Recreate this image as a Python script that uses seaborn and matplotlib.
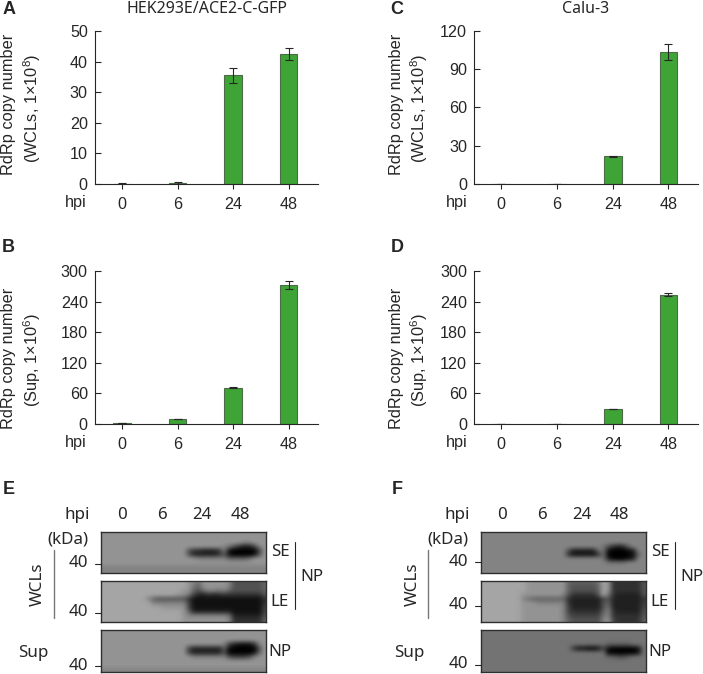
#!/usr/bin/env python3
"""RdRp copy number bar charts and NP western blots."""

import matplotlib

matplotlib.use("Agg")

import matplotlib.pyplot as plt
import numpy as np
import pandas as pd
import seaborn as sns

sns.set_theme(style="ticks")
plt.rcParams["font.family"] = ["Liberation Sans", "DejaVu Sans"]
plt.rcParams["mathtext.default"] = "regular"

W, H = 703, 674
GREEN = "#3ea435"
INK = "#262626"

hpi = ["0", "6", "24", "48"]

wcl_hek = [0.05, 0.2, 35.5, 42.5]
wcl_hek_err = [0.05, 0.2, 2.5, 2.0]
sup_hek = [0.8, 9, 71, 273]
sup_hek_err = [0.4, 0.4, 1.5, 8]
wcl_calu = [0.05, 0.05, 21.5, 103.5]
wcl_calu_err = [0.0, 0.0, 0.3, 6.5]
sup_calu = [0.1, 0.1, 29, 253]
sup_calu_err = [0.0, 0.0, 0.6, 3.0]

ticks_wcl_hek = [0, 10, 20, 30, 40, 50]
ticks_wcl_calu = [0, 30, 60, 90, 120]
ticks_sup = [0, 60, 120, 180, 240, 300]

# blot images, one hex digit per cell: 0 is black, f is near white
blot_e_se = [
    "99999 99999 99999 99999 99999 99999 999",
    "99999 99999 99999 99999 99999 99999 999",
    "99999 99999 99999 99999 99999 99988 999",
    "99999 99999 99999 99999 99998 75322 489",
    "99999 99999 99999 99533 22238 10000 049",
    "99999 99999 99999 99522 22235 10000 159",
    "99999 99999 99999 99998 88888 66667 999",
    "99999 99999 99999 99999 99999 99999 999",
    "88888 88888 88888 88888 88888 88888 888",
    "88888 88888 88888 88888 88888 88888 888",
]
blot_e_le = [
    "aaaaa aaaaa aaaaa aa987 99999 85555 556",
    "aaaaa aaaaa aaaaa aa976 99999 85555 556",
    "aaaaa aaaaa aaaaa a9965 78878 65555 556",
    "aaaaa aaaaa aaaaa 99742 23233 33333 335",
    "aaaaa aaaa8 65555 55311 11111 11111 113",
    "aaaaa aaaaa 88888 88411 11111 11111 113",
    "aaaaa aaaaa aa999 99411 11111 11111 114",
    "aaaaa aaaaa aaaaa a9622 22222 21111 114",
    "aaaaa aaaaa aaaaa a9888 88888 72222 225",
    "aaaaa aaaaa aaaaa a9999 99999 83333 336",
]
blot_e_sup = [
    "99999 99999 99999 99999 99999 99999 999",
    "99999 99999 99999 99999 99999 99999 999",
    "99999 99999 99999 99999 99999 99999 999",
    "99999 99999 99999 99999 99998 42111 389",
    "99999 99999 99999 99422 22226 10000 059",
    "99999 99999 99999 99422 22225 00000 169",
    "99999 99999 99999 99988 88888 54445 899",
    "99999 99999 99999 99999 99999 99999 999",
    "99999 99999 99999 99999 99999 99999 999",
    "88888 88888 88888 88888 88888 88888 888",
]
blot_f_se = [
    "88888 88888 88888 88888 88888 88888 888",
    "88888 88888 88888 88888 88888 88888 888",
    "88888 88888 88888 88888 88888 88888 888",
    "88888 88888 88888 88888 88887 53236 888",
    "88888 88888 88888 88522 22277 10001 288",
    "88888 88888 88888 88311 11137 00000 168",
    "88888 88888 88888 88888 88887 20001 288",
    "88888 88888 88888 88888 88888 77778 888",
    "88888 88888 88888 88888 88888 88888 888",
    "88888 88888 88888 88888 88888 88888 888",
]
blot_f_le = [
    "aaaaa aaaa9 99999 99666 6667a 93333 335",
    "aaaaa aaaa9 99999 99655 5556a 93333 335",
    "aaaaa aaaa9 99999 99655 5556a 93333 335",
    "aaaaa aaa99 99999 98533 3335a 73222 225",
    "aaaaa aaa87 66666 66322 22224 52222 223",
    "aaaaa aaa99 98888 88322 22225 62222 224",
    "aaaaa aaa99 99999 98422 22225 72222 224",
    "aaaaa aaa99 99999 98433 33336 83222 225",
    "aaaaa aaa99 99999 98544 44447 83333 335",
    "aaaaa aaa99 99999 98655 55558 94333 336",
]
blot_f_sup = [
    "77777 77777 77777 77777 77777 77777 777",
    "77777 77777 77777 77777 77777 77777 777",
    "77777 77777 77777 77777 77777 77777 777",
    "77777 77777 77777 77777 77777 66666 777",
    "77777 77777 77777 77731 10014 10000 017",
    "77777 77777 77777 77777 77777 00000 017",
    "77777 77777 77777 77777 77777 66556 777",
    "77777 77777 77777 77777 77777 77777 777",
    "77777 77777 77777 77777 77777 77777 777",
    "77777 77777 77777 77777 77777 77777 777",
]


def axes_box(fig, left, top, right, bottom):
    return fig.add_axes(
        [left / W, 1 - bottom / H, (right - left) / W, (bottom - top) / H]
    )


def bar_panel(fig, box, values, errors, ticks):
    ax = axes_box(fig, *box)
    df = pd.DataFrame({"hpi": hpi, "copies": values})
    sns.barplot(
        data=df,
        x="hpi",
        y="copies",
        color=GREEN,
        saturation=1,
        width=0.32,
        edgecolor="#4d6b49",
        linewidth=0.8,
        errorbar=None,
        ax=ax,
    )
    ax.errorbar(
        range(len(values)),
        values,
        yerr=errors,
        fmt="none",
        ecolor=INK,
        elinewidth=0.8,
        capsize=2.9,
        capthick=0.8,
    )
    ax.set_xlim(-0.486, 3.53)
    ax.set_ylim(0, ticks[-1])
    ax.set_yticks(ticks)
    ax.set_xlabel("")
    ax.set_ylabel("")
    ax.tick_params(axis="y", direction="in", length=4.4, width=0.8, pad=5.2, labelsize=11.6, colors=INK)
    ax.tick_params(axis="x", direction="out", length=3.6, width=0.8, pad=6, labelsize=11.6, colors=INK)
    sns.despine(ax=ax)
    for side in ("left", "bottom"):
        ax.spines[side].set_linewidth(0.8)
        ax.spines[side].set_color(INK)
    ax.patch.set_alpha(0)
    return ax


def blot_panel(fig, box, rows):
    ax = axes_box(fig, *box)
    cells = np.array([[int(c, 16) for c in row.replace(" ", "")] for row in rows])
    ax.imshow(cells, cmap="gray", vmin=0, vmax=15.5, aspect="auto", interpolation="bicubic")
    ax.set_xticks([])
    ax.set_yticks([])
    for spine in ax.spines.values():
        spine.set_linewidth(1.0)
        spine.set_color("#2e2e2e")
    return ax


fig = plt.figure(figsize=(W / 100, H / 100), dpi=100)

bar_panel(fig, (95, 31, 318, 183.7), wcl_hek, wcl_hek_err, ticks_wcl_hek)
bar_panel(fig, (95, 271, 318, 423.7), sup_hek, sup_hek_err, ticks_sup)
bar_panel(fig, (474.3, 31, 698, 183.7), wcl_calu, wcl_calu_err, ticks_wcl_calu)
bar_panel(fig, (474.3, 271, 698, 423.7), sup_calu, sup_calu_err, ticks_sup)

blot_panel(fig, (100.5, 531.5, 266, 572.5), blot_e_se)
blot_panel(fig, (100.5, 580.5, 266, 622), blot_e_le)
blot_panel(fig, (100.5, 629.5, 266, 672), blot_e_sup)
blot_panel(fig, (480.5, 531.5, 645.5, 572.5), blot_f_se)
blot_panel(fig, (480.5, 580.5, 645.5, 622), blot_f_le)
blot_panel(fig, (480.5, 629.5, 645.5, 672), blot_f_sup)

# overlay in pixel coordinates for labels and brackets
page = fig.add_axes([0, 0, 1, 1], zorder=5)
page.set_xlim(0, W)
page.set_ylim(H, 0)
page.axis("off")


def label(x, y, text, size=11.6, family="Liberation Sans", weight="normal", ha="center", rotation=0):
    page.text(
        x, y, text, fontsize=size, family=family, weight=weight, ha=ha, va="center",
        rotation=rotation, color=INK,
    )


for x, y, letter in [(9, 9, "A"), (8, 248, "B"), (397, 9, "C"), (397, 248, "D"), (9, 489, "E"), (397, 489, "F")]:
    label(x, y, letter, size=13, weight="bold")

label(206.5, 9, "HEK293E/ACE2-C-GFP", size=11.5, family="Noto Sans")
label(586, 9, "Calu-3", size=11.5, family="Noto Sans")

for x1, x2 in [(9, 32), (396.7, 419)]:
    label(x1, 104, "RdRp copy number", size=11.8, rotation=90)
    label(x2, 108, "(WCLs, 1×10$^{8}$)", size=11.8, rotation=90)
    label(x1, 358, "RdRp copy number", size=11.8, rotation=90)
    label(x2, 360, "(Sup, 1×10$^{6}$)", size=11.8, rotation=90)

for x in (76, 456.7):
    label(x, 203, "hpi")
    label(x, 443, "hpi")


def blot_labels(hpi_x, lane_x, right, wcl_x, wcl_line, sup_x, side_x, bracket_x, np_x, mw_y):
    sans = "Noto Sans"
    label(hpi_x, 515, "hpi", size=12.2, family=sans)
    for x, t in zip(lane_x, hpi):
        label(x, 515, t, size=12.2, family=sans)
    label(right, 539, "(kDa)", size=12.2, family=sans, ha="right")
    for y in mw_y:
        label(right, y, "40", size=12.2, family=sans, ha="right")
        page.plot([right + 7, right + 12.5], [y + 0.5, y + 0.5], color=INK, lw=0.8)
    label(wcl_x, 584, "WCLs", size=12.2, family=sans, rotation=90)
    page.plot([wcl_line, wcl_line], [550, 617.7], color="#777777", lw=1.0)
    label(sup_x, 653, "Sup", size=12.2, family=sans)
    label(side_x, 552, "SE", size=12.2, family=sans)
    label(side_x, 602, "LE", size=12.2, family=sans)
    label(side_x, 652, "NP", size=12.2, family=sans)
    page.plot([bracket_x, bracket_x], [541.7, 609], color=INK, lw=0.8)
    label(np_x, 577, "NP", size=12.2, family=sans)


blot_labels(76.7, [122, 162, 202, 240], 88, 38, 54, 33, 280, 295, 311.7, [563, 612, 665.5])
blot_labels(456.7, [502, 542, 581.7, 619.3], 468, 413, 427.7, 409, 660, 675, 691.7, [561.5, 605, 664.5])

fig.savefig("out.png", dpi=100)
